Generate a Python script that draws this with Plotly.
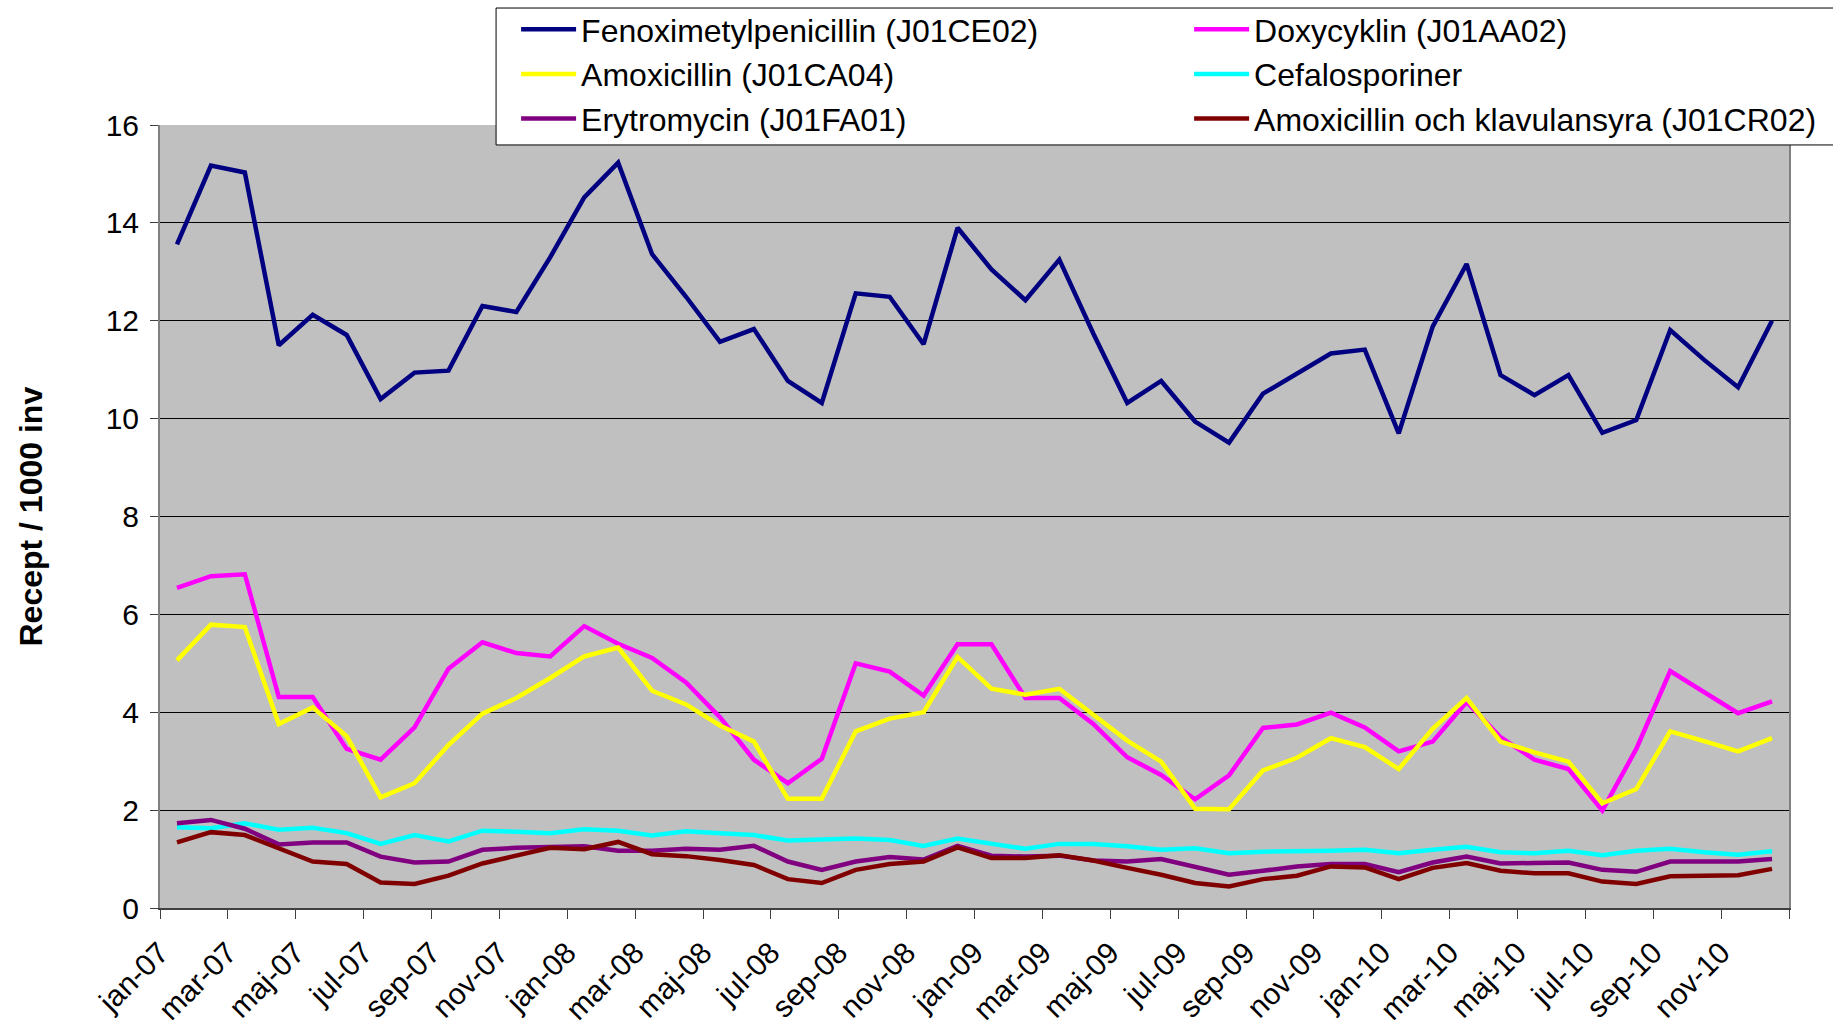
import plotly.graph_objects as go

month_names = ["jan", "feb", "mar", "apr", "maj", "jun", "jul", "aug", "sep", "okt", "nov", "dec"]
years = ["07", "08", "09", "10"]
months = [f"{m}-{y}" for y in years for m in month_names]

fenoxi = [13.56, 15.17, 15.03, 11.50, 12.12, 11.71, 10.40, 10.94, 10.98, 12.30, 12.18, 13.30,
          14.52, 15.23, 13.36, 12.49, 11.57, 11.83, 10.77, 10.32, 12.56, 12.49, 11.52, 13.90,
          13.05, 12.42, 13.25, 11.74, 10.32, 10.77, 9.94, 9.51, 10.51, 10.92, 11.33, 11.41,
          9.70, 11.88, 13.16, 10.89, 10.48, 10.89, 9.71, 9.97, 11.81, 11.20, 10.64, 12.00]
doxy = [6.54, 6.78, 6.82, 4.31, 4.31, 3.25, 3.03, 3.69, 4.89, 5.43, 5.21, 5.14,
        5.76, 5.40, 5.11, 4.61, 3.90, 3.03, 2.55, 3.05, 5.00, 4.83, 4.34, 5.39,
        5.39, 4.29, 4.29, 3.76, 3.08, 2.72, 2.22, 2.71, 3.68, 3.75, 3.99, 3.69,
        3.20, 3.40, 4.21, 3.49, 3.03, 2.84, 1.99, 3.25, 4.84, 4.41, 3.98, 4.22]
amox = [5.06, 5.79, 5.74, 3.76, 4.10, 3.51, 2.26, 2.55, 3.33, 3.97, 4.29, 4.70,
        5.14, 5.32, 4.44, 4.16, 3.73, 3.40, 2.23, 2.23, 3.61, 3.87, 4.00, 5.13,
        4.48, 4.36, 4.48, 3.95, 3.42, 2.99, 2.03, 2.02, 2.81, 3.07, 3.47, 3.29,
        2.84, 3.66, 4.29, 3.40, 3.18, 2.99, 2.14, 2.43, 3.61, 3.41, 3.20, 3.47]
cefalo = [1.65, 1.63, 1.73, 1.60, 1.64, 1.53, 1.31, 1.49, 1.36, 1.58, 1.56, 1.53,
          1.61, 1.58, 1.48, 1.57, 1.53, 1.49, 1.38, 1.41, 1.42, 1.39, 1.27, 1.42,
          1.31, 1.21, 1.31, 1.31, 1.26, 1.19, 1.22, 1.12, 1.15, 1.15, 1.17, 1.19,
          1.12, 1.19, 1.25, 1.14, 1.12, 1.17, 1.08, 1.17, 1.21, 1.14, 1.09, 1.16]
eryt = [1.73, 1.80, 1.62, 1.30, 1.34, 1.34, 1.05, 0.93, 0.95, 1.19, 1.23, 1.25,
        1.26, 1.17, 1.17, 1.21, 1.19, 1.27, 0.95, 0.78, 0.95, 1.04, 0.99, 1.27,
        1.07, 1.05, 1.07, 0.97, 0.95, 1.00, 0.84, 0.68, 0.76, 0.85, 0.90, 0.90,
        0.73, 0.93, 1.05, 0.91, 0.92, 0.93, 0.78, 0.74, 0.95, 0.95, 0.95, 1.00]
amoxklav = [1.34, 1.55, 1.49, 1.23, 0.95, 0.90, 0.52, 0.49, 0.66, 0.91, 1.07, 1.23,
            1.20, 1.35, 1.10, 1.06, 0.98, 0.88, 0.59, 0.51, 0.78, 0.90, 0.95, 1.24,
            1.02, 1.02, 1.08, 0.97, 0.82, 0.68, 0.51, 0.44, 0.59, 0.66, 0.85, 0.83,
            0.59, 0.82, 0.92, 0.76, 0.71, 0.71, 0.54, 0.49, 0.65, 0.65, 0.67, 0.80]

series = [
    ("Fenoximetylpenicillin (J01CE02)", fenoxi, "#000080"),
    ("Doxycyklin (J01AA02)", doxy, "#FF00FF"),
    ("Amoxicillin (J01CA04)", amox, "#FFFF00"),
    ("Cefalosporiner", cefalo, "#00FFFF"),
    ("Erytromycin (J01FA01)", eryt, "#800080"),
    ("Amoxicillin och klavulansyra (J01CR02)", amoxklav, "#800000"),
]

idx = list(range(len(months)))
FONT = "Liberation Sans, Arial, sans-serif"

fig = go.Figure()
for name, vals, col in series:
    fig.add_trace(go.Scatter(x=idx, y=vals, name=name, mode="lines",
                             line=dict(color=col, width=4.5), text=months,
                             hovertemplate="%{text}: %{y}<extra>" + name + "</extra>"))

tickvals = [i - 0.5 for i in idx[::2]] + [len(months) - 0.5]
ticktext = months[::2] + [""]

fig.update_layout(
    width=1833, height=1020,
    paper_bgcolor="white", plot_bgcolor="#C0C0C0",
    margin=dict(l=160, r=44, t=125, b=112, autoexpand=False),
    font=dict(family=FONT, size=30, color="black"),
    showlegend=True,
    legend=dict(orientation="h", x=0.2186, xanchor="left", y=1.1571, yanchor="top",
                bgcolor="rgba(0,0,0,0)", borderwidth=0,
                font=dict(family=FONT, size=32, color="black"),
                entrywidth=603, entrywidthmode="pixels", itemwidth=55,
                traceorder="normal"),
    shapes=[dict(type="rect", xref="paper", yref="paper",
                 x0=0.2063, x1=1.035, y0=0.9745, y1=1.1494,
                 fillcolor="white", line=dict(color="black", width=1), layer="above")],
    xaxis=dict(range=[-0.5, len(months) - 0.5], tickmode="array", tickvals=tickvals,
               ticktext=ticktext, tickangle=-45, ticks="outside", ticklen=9,
               tickcolor="#404040", showgrid=False, zeroline=False,
               showline=True, linecolor="#404040", linewidth=2,
               tickfont=dict(family=FONT, size=30), ticklabelstandoff=4),
    yaxis=dict(range=[0, 16], tickmode="array", tickvals=list(range(0, 17, 2)),
               ticks="outside", ticklen=8, tickcolor="#404040",
               showgrid=True, gridcolor="#000000", gridwidth=1, zeroline=False,
               showline=True, linecolor="#808080", linewidth=2, mirror=True,
               tickfont=dict(family=FONT, size=30), ticklabelstandoff=5),
    annotations=[dict(text="<b>Recept / 1000 inv</b>", xref="paper", yref="paper",
                      x=-0.0798, y=0.5, xanchor="center", yanchor="middle",
                      textangle=-90, showarrow=False,
                      font=dict(family=FONT, size=32, color="black"))],
)

fig.write_html("out.html", config={"displayModeBar": False},
               post_script="document.body.style.margin='0';document.body.style.overflow='hidden';")
